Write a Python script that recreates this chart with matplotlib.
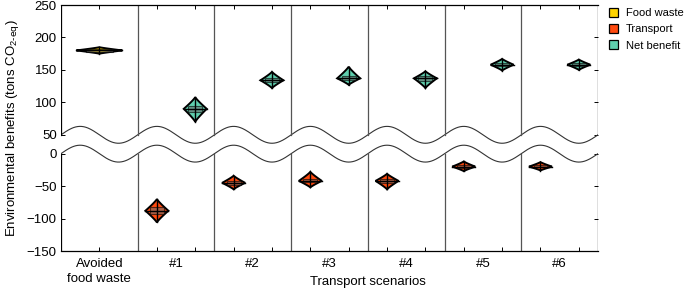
import matplotlib.pyplot as plt
import numpy as np
from matplotlib.patches import Patch, Polygon, Rectangle

plt.rcParams['font.family'] = ['Liberation Sans', 'DejaVu Sans']
plt.rcParams['mathtext.default'] = 'regular'

# categories
columns = ['Avoided\nfood waste', '#1', '#2', '#3', '#4', '#5', '#6']
series = ['Food waste', 'Transport', 'Net benefit']
colors = ['#FFD400', '#FF4A0F', '#5FCFAE']

# five-number summaries: low, q1, median, q3, high
food_waste = [175, 178, 180, 182, 185]
transport = [
    [-106, -93, -88, -82, -70],
    [-55, -48, -45, -42, -34],
    [-52, -44, -42, -39, -28],
    [-55, -46, -42, -39, -31],
    [-27, -22, -20, -18, -12],
    [-26, -21, -20, -18, -13],
]
net_benefit = [
    [70, 85, 90, 95, 108],
    [122, 131, 134, 138, 147],
    [127, 134, 137, 140, 155],
    [122, 133, 137, 140, 148],
    [149, 156, 158, 160, 167],
    [150, 156, 158, 160, 166],
]

upper_ticks = [250, 200, 150, 100, 50]
lower_ticks = [0, -50, -100, -150]

GAP = 29      # space between the two axis blocks, in data units
AMP = 13      # wave amplitude
TOP = 250 - 50 + GAP


def to_plot(v):
    v = np.asarray(v, dtype=float)
    return np.where(v > 25, v - 50 + GAP, v)


def violin(ax, x, stats, color, half_w, p=1.15):
    lo, q1, med, q3, hi = to_plot(stats)
    yd = np.linspace(lo, med, 40)
    yu = np.linspace(med, hi, 40)[1:]
    wd = half_w * ((yd - lo) / (med - lo)) ** p
    wu = half_w * ((hi - yu) / (hi - med)) ** p
    ys = np.concatenate([yd, yu])
    ws = np.concatenate([wd, wu])
    pts = np.column_stack([np.concatenate([x + ws, (x - ws)[::-1]]),
                           np.concatenate([ys, ys[::-1]])])
    ax.add_patch(Polygon(pts, closed=True, facecolor=color, edgecolor='black',
                         lw=1.4, zorder=3))
    bw = half_w * 0.6
    ax.add_patch(Rectangle((x - bw, q1), 2 * bw, q3 - q1, facecolor='#6f6f6f',
                           alpha=0.6, edgecolor='black', lw=0.8, zorder=4))
    ax.plot([x, x], [lo, hi], color='black', lw=1.0, zorder=5)
    ax.plot([x - half_w, x + half_w], [med, med], color='black', lw=1.0, zorder=5)


fig = plt.figure(figsize=(6.85, 2.91), dpi=100)
ax = fig.add_axes([61 / 685, 1 - 251 / 291, 537 / 685, 246 / 291])

n = len(columns)
ax.set_xlim(-0.5, n - 0.5)
ax.set_ylim(-150, TOP)

violin(ax, 0, food_waste, colors[0], 0.3)
for i in range(1, n):
    violin(ax, i - 0.25, transport[i - 1], colors[1], 0.15)
    violin(ax, i + 0.25, net_benefit[i - 1], colors[2], 0.15)

# broken-axis waves
xw = np.linspace(-0.5, n - 0.5, 800)
wave = AMP * np.sin(2 * np.pi * (xw + 0.5))
ax.plot(xw, wave + GAP, color='#333333', lw=0.8, zorder=2)
ax.plot(xw, wave, color='#333333', lw=0.8, zorder=2)

# column dividers and side spines, interrupted at the break
for xb in np.arange(-0.5, n, 1.0):
    c = 'black' if xb in (-0.5, n - 0.5) else '#555555'
    ax.plot([xb, xb], [-150, 0], color=c, lw=0.9, zorder=2)
    ax.plot([xb, xb], [GAP, TOP], color=c, lw=0.9, zorder=2)
ax.spines['left'].set_visible(False)
ax.spines['right'].set_visible(False)
ax.spines['top'].set_linewidth(0.9)
ax.spines['bottom'].set_linewidth(0.9)

yt = list(to_plot(upper_ticks)) + lower_ticks
ax.set_yticks(yt, [str(t).replace('-', '\u2212') for t in upper_ticks + lower_ticks])
xt = [0] + [i + d for i in range(1, n) for d in (-0.25, 0.25)]
ax.xaxis.remove_overlapping_locs = False
ax.set_xticks(xt, [''] * len(xt))
ax.set_xticks(range(n), columns, minor=True)
for lbl in ax.get_xticklabels(minor=True):
    lbl.set_linespacing(1.35)
ax.tick_params(axis='both', which='major', direction='in', length=3, width=0.7,
               top=True, right=True, labelsize=9.5)
ax.tick_params(axis='x', which='minor', length=0, pad=5, labelsize=9.5)
ax.tick_params(axis='y', pad=3)

ax.set_ylabel('Environmental benefits (tons CO$_{2\\text{-eq}}$)', fontsize=9.5, labelpad=4)
ax.text(3.5, -198, 'Transport scenarios', ha='center', va='center', fontsize=9.5)

handles = [Patch(facecolor=c, edgecolor='black', lw=0.9) for c in colors]
fig.legend(handles, series, loc='upper left', bbox_to_anchor=(609 / 685, 1 - 8 / 291),
           frameon=False, fontsize=8, handlelength=0.8, handleheight=0.8,
           handletextpad=0.7, labelspacing=0.55, borderpad=0, borderaxespad=0)

fig.savefig('out.png', dpi=100)
